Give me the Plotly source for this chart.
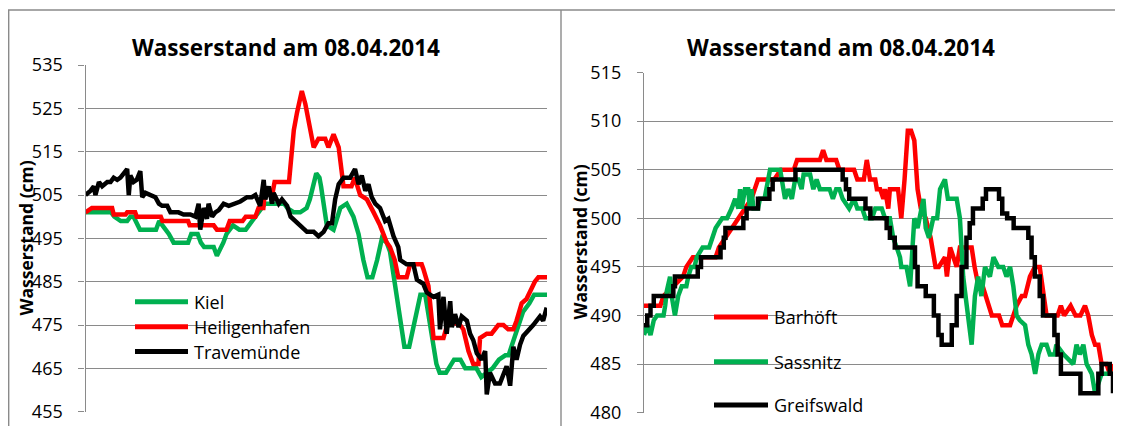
import plotly.graph_objects as go

# the page body keeps its default 8px margin, so the figure is laid out in
# page pixels minus that offset
OFF = 8
W, H = 1123 - OFF, 426 - OFF

# time axis: 10-minute steps over the day (0 .. 144)
kiel_t = [0, 8, 9, 11, 13, 14, 15, 17, 22, 23, 24, 26, 27.5, 32, 33, 35, 36, 37, 40, 41,
          43, 44, 46, 48, 50, 51, 53, 55, 56, 62, 63, 65, 67, 69, 70, 71, 72, 73, 73.5, 75.3,
          77.4, 79.5, 81.5, 83.6, 85.2, 86.7, 88, 89.5, 91, 92.5, 94, 95, 97, 99.5, 101, 104.5,
          106, 108, 109.5, 110.5, 112.5, 115, 117, 118.5, 122, 123.5, 125, 127, 129, 131, 132,
          134.5, 136.5, 138.5, 140, 144]
kiel_cm = [501, 501, 500, 499, 499, 500, 500, 497, 497, 499, 498, 496, 494, 494, 496, 496, 494, 493, 493, 491,
           494, 496, 498, 497, 497, 498, 500, 502, 503, 503, 502, 501, 501, 502, 504, 507, 510, 509, 507, 498,
           497, 502, 503, 500, 496, 490, 486, 486, 490, 495, 494, 492, 482, 470, 470, 482,
           482, 472, 466, 464, 464, 467, 467, 465, 465, 463, 464, 465, 467, 468, 468,
           474, 478, 480, 482, 482]

heiligenhafen_t = [0, 2, 8.3, 8.8, 12.5, 13, 15.5, 16, 23.5, 24, 32, 32.5, 40, 41, 44, 45, 49, 50, 53, 54,
                   55.5, 56, 58.5, 59, 63.5, 64, 65, 66, 67.5, 68.6, 69.6, 71.2, 72.7, 74.8, 75.8, 77.4,
                   79, 80, 80.5, 83, 84, 85.7, 87.8, 89.9, 91.9, 94, 95, 96.5, 97.6, 100.2, 101.3, 104.9,
                   105.4, 107, 108.6, 111.7, 113.2, 116.9, 117.9, 119.5, 121, 122.6, 123.1, 125.2, 126.7,
                   128.8, 130.4, 131.9, 133.5, 134.5, 136.1, 137.6, 140.2, 141.3, 144]
heiligenhafen_cm = [501, 502, 502, 500.5, 500.5, 501, 501, 500, 500, 499, 499, 498, 498, 497, 497, 499, 499, 500, 500, 502,
                    502, 506, 506, 508, 508, 513, 520, 524, 529, 526, 522, 516, 518, 518, 516, 519,
                    516, 510, 507, 507, 509, 505, 504, 501, 498, 494, 493, 490, 486, 486, 489, 489,
                    488, 484, 472, 472, 476, 475, 474, 469, 466, 466, 472, 473, 473,
                    475, 475, 474, 474, 476, 480, 481, 485, 486, 486]

travemuende_t = [0, 1.6, 2.6, 3.1, 4.2, 5.2, 6.8, 7.8, 8.8, 9.9, 10.9, 12, 13, 13.5, 14, 15, 16, 17.1, 17.7, 18.7,
                 20.3, 21.8, 22.9, 23.9, 25.5, 26.5, 28, 29, 30.6, 32.7, 34.3, 35.3, 35.8, 36.9, 37.9, 38.4,
                 39.5, 40.5, 41.6, 43.1, 44.7, 46.2, 48.3, 50.4, 51.9, 53, 54.5, 55.6, 56.1, 57.2, 58.2, 58.7,
                 60.3, 61.3, 62.9, 64, 65.5, 67.5, 69.1, 71.2, 72.7, 74.3, 75.8, 76.9, 77.9, 79, 80.5, 82.6,
                 84.1, 85.2, 86.2, 87.3, 88.3, 89.3, 90.4, 91.9, 93.5, 94.5, 96.1, 97.6, 98.2, 100.2, 102.3,
                 103.4, 105.4, 106.5, 108.6, 110.1, 110.6, 111.7, 112.7, 113.8, 114.3, 115.3, 116.4, 117.4,
                 119, 120, 121, 122.1, 123.6, 124.7, 125.2, 126.2, 127.8, 129.3, 130.4, 131.4, 132.5, 133.5,
                 134.5, 135.6, 136.6, 138.7, 139.7, 141.8, 142.8, 143.9]
travemuende_cm = [505, 506, 507, 505, 508, 507, 508, 508, 509, 508.5, 509, 510, 511, 505, 509.5, 508, 508.5, 510.5, 504.5, 505.5,
                  505, 504.5, 503, 502.5, 502.5, 501, 501, 501, 500.5, 500.5, 500, 503, 497, 502, 499.5, 503,
                  500, 501, 501.5, 503, 502.5, 503, 503.5, 504.5, 504.5, 505, 502.5, 508.5, 504, 507, 503, 505.5,
                  503, 504, 502.5, 500, 499, 497.5, 496.5, 496.5, 495.5, 496.5, 498.5, 498.5, 504, 507.5, 509, 509,
                  511, 507.5, 509.5, 506, 507.5, 504.5, 503, 502, 499, 499.5, 495.5, 493, 490, 489, 489,
                  485.5, 484.5, 482.5, 481.5, 482, 474, 481.5, 473, 480.5, 474.5, 477.5, 474.5, 477,
                  476, 473, 471.5, 468.5, 467, 469, 459, 464, 461.5, 461.5, 464, 465.5, 461, 470,
                  467, 470.5, 472.5, 474, 475, 477, 476, 479]

barhoeft_t = [0, 5, 6, 9, 12, 13, 15, 22, 23, 25, 27, 29, 31, 33, 35, 37, 40, 42, 46, 47,
              54, 55, 56, 59, 60, 64.5, 65.5, 67.5, 68.4, 69.4, 71, 71.5, 72.5, 73.5, 74, 75, 75.5, 78, 79, 80,
              81, 82, 83, 84, 85, 86.5, 88, 89.5, 90.5, 92.4, 93, 94, 95, 96, 97, 98.6, 100.6, 101.5, 102.7, 104,
              105, 106.8, 109, 110, 112.4, 113.4, 114.4, 116, 117, 118.5, 120, 121.5, 122.6, 123.6, 127, 128, 129,
              131, 132.5, 134, 135.4, 136.4, 137.5, 138.5, 139.5, 140.5, 142, 143, 144]
barhoeft_cm = [491, 491, 492, 493, 494, 495, 496, 496, 497, 498, 499, 500, 501, 502, 504, 504, 504, 505, 505, 506,
               506, 507, 506, 506, 505, 505, 504, 504, 506, 504, 504, 503, 503, 502, 503, 501, 503, 503, 500, 504,
               509, 509, 508, 503, 501, 500, 498, 495, 495, 496, 494, 497, 496, 495, 497, 497, 497, 495, 493, 493,
               492, 490, 490, 489, 489, 490, 491, 492, 492, 494, 495, 495, 492, 490, 490, 491, 490,
               491, 490, 490, 491, 490, 488, 487, 487, 485, 485, 484, 485]

sassnitz_t = [0, 1, 2, 3, 4, 6, 6.5, 7, 8, 8.5, 9.5, 10.5, 11.6, 13, 13.6, 14.5, 15.5, 16.2, 18, 20,
              21, 22, 24, 25.5, 26.9, 28, 29, 29.5, 30, 31, 32, 32.5, 33, 33.6, 35, 35.6, 37, 37.5, 38.2, 38.7,
              41.8, 42.3, 43.3, 44.3, 45.4, 46.4, 47.4, 48.4, 49, 51, 52, 53, 54, 57, 58, 59, 60, 61, 63, 64.5,
              65.5, 67, 68, 70, 71, 73, 74, 75.5, 76.5, 77.6, 78.6, 79, 80.6, 81.7, 82.5, 83, 84, 85, 85.8, 86.5,
              87.5, 88.8, 90, 90.9, 92.4, 93.3, 94.5, 96, 97, 98, 99.1, 100.6, 101.6, 102.6, 103.6, 104.7, 106.2,
              107.3, 108.8, 110.3, 111.3, 112.4, 113.4, 114.4, 115.4, 117, 118, 119, 120.1, 121.1, 122.1, 123.6,
              124.6, 126.1, 126.6, 128.8, 131.8, 132.8, 133.8, 134.9, 135.9, 137.5, 138.5, 139.5, 140.5, 142, 144]
sassnitz_cm = [488, 489, 488, 489.5, 490, 490, 491, 492.5, 494, 492, 490, 492, 493, 493, 494, 495, 495, 496, 497, 497,
               498, 499, 500, 500, 501, 502, 501, 503, 501, 503, 503, 501, 503, 501, 501, 502, 502, 503, 504, 505,
               505, 504, 502, 503, 502, 504, 504, 503, 504.5, 504.5, 503, 504, 503, 503, 502, 503, 503, 502, 501, 502,
               501, 501, 500, 500, 501, 501, 500, 500, 498, 497, 496, 495, 495, 493, 497, 500, 499, 501, 502, 499,
               498, 500, 500, 503, 504, 502, 502, 502, 500, 494, 491, 487, 492, 494, 492, 495, 494,
               496, 495, 495, 494, 495, 493, 490, 489.5, 489, 487, 486, 484, 486, 487, 487,
               486, 486, 487, 486, 485, 487, 486, 487, 485, 484, 482, 483, 484, 484, 484]

greifswald_t = [0, 1, 2, 3, 8, 9, 9.5, 15.5, 16.5, 17.5, 22.5, 23.5, 24.5, 25, 29.5, 30.5, 31.5, 34, 35, 37.5,
                38.5, 39.5, 46, 46.5, 60, 61, 62, 63, 67, 68, 69.5, 74, 74.5, 75.5, 77, 82.5, 83.2, 84, 86, 86.5,
                88, 89, 90.4, 91.4, 93.4, 94.5, 96, 97.5, 99, 100, 101, 103, 104, 105, 108, 109, 110, 111.5, 113,
                113.5, 117, 118, 119, 120, 121.5, 122.5, 124.7, 126, 127, 128, 133, 134, 138.5, 139.5, 140.5, 142,
                143, 144]
greifswald_cm = [489, 490, 491, 492, 492, 493, 494, 494, 495, 496, 496, 497, 498, 499, 499, 500, 501, 501, 502, 502,
                 503, 504, 504, 505, 505, 504, 503, 502, 502, 501, 500, 500, 499, 498, 497, 497, 495, 493, 493, 492,
                 492, 490, 488, 487, 487, 489, 492, 495, 498, 499.5, 501, 501, 502, 503, 503, 502, 500.5, 500, 500,
                 499, 499, 498, 496, 494, 492, 490, 490, 488, 486, 484, 484, 482, 482, 484, 485, 485,
                 484, 482]

GREEN = "#00B050"
RED = "#FF0000"
BLACK = "#000000"
GRID = "#8a8a8a"
FONT = "Open Sans"


def fx(px):
    """page pixel (from left) -> paper fraction"""
    return (px - OFF) / W


def fy(py):
    """page pixel (from top) -> paper fraction"""
    return 1 - (py - OFF) / H


left_series = [
    ("Kiel", kiel_t, kiel_cm, GREEN, "linear"),
    ("Heiligenhafen", heiligenhafen_t, heiligenhafen_cm, RED, "linear"),
    ("Travemünde", travemuende_t, travemuende_cm, BLACK, "linear"),
]
right_series = [
    ("Barhöft", barhoeft_t, barhoeft_cm, RED, "linear"),
    ("Sassnitz", sassnitz_t, sassnitz_cm, GREEN, "linear"),
    ("Greifswald", greifswald_t, greifswald_cm, BLACK, "hv"),
]

fig = go.Figure()
for name, t, cm, color, shape in left_series:
    fig.add_trace(go.Scatter(x=t, y=cm, name=name, mode="lines", xaxis="x", yaxis="y",
                             line=dict(color=color, width=4.5, shape=shape)))
for name, t, cm, color, shape in right_series:
    fig.add_trace(go.Scatter(x=t, y=cm, name=name, mode="lines", xaxis="x2", yaxis="y2",
                             line=dict(color=color, width=4.5, shape=shape)))

yaxis_style = dict(
    showgrid=True, gridcolor=GRID, gridwidth=1.3,
    showline=True, linecolor=GRID, linewidth=1.3,
    ticks="outside", ticklen=6, tickcolor=GRID, tickwidth=1.3,
    ticklabelstandoff=12, zeroline=False, fixedrange=True, automargin=False,
    tickfont=dict(family=FONT, size=18, color="black"),
)

fig.update_layout(
    width=W, height=H,
    margin=dict(l=0, r=0, t=0, b=0, autoexpand=False),
    paper_bgcolor="white", plot_bgcolor="white",
    showlegend=False,
    xaxis=dict(domain=[fx(85.5), fx(547)], range=[0, 144], visible=False, anchor="y", automargin=False),
    yaxis=dict(domain=[fy(411.7), fy(65)], range=[455, 535], tickvals=list(range(455, 536, 10)),
               anchor="x", **yaxis_style),
    xaxis2=dict(domain=[fx(644), fx(1113)], range=[0, 144], visible=False, anchor="y2", automargin=False),
    yaxis2=dict(domain=[fy(412.7), fy(72.5)], range=[480, 515], tickvals=list(range(480, 516, 5)),
                anchor="x2", **yaxis_style),
)

# chart area borders
border = dict(color=GRID, width=1.4)
fig.add_shape(type="path", xref="paper", yref="paper", line=border,
              path=f"M {fx(8.7)} -0.2 L {fx(8.7)} {fy(10)} L {fx(1118)} {fy(10)} L {fx(1118)} -0.2")
fig.add_shape(type="line", xref="paper", yref="paper", line=border,
              x0=fx(561), x1=fx(561), y0=-0.2, y1=fy(10))

# titles
for cx, cy_lab, ylab_x in [(285.5, 238.5, 25), (841, 242.5, 580)]:
    fig.add_annotation(text="<b>Wasserstand am 08.04.2014</b>", x=fx(cx), y=fy(47.5),
                       xref="paper", yref="paper", xanchor="center", yanchor="middle",
                       showarrow=False, font=dict(family=FONT, size=22.5, color="black"))
    fig.add_annotation(text="<b>Wasserstand (cm)</b>", textangle=-90, x=fx(ylab_x), y=fy(cy_lab),
                       xref="paper", yref="paper", xanchor="center", yanchor="middle",
                       showarrow=False, font=dict(family=FONT, size=17.5, color="black"))

# legends drawn by hand (line swatch + label)
legends = [
    (135, 188, 192, [(301.7, "Kiel", GREEN), (326.7, "Heiligenhafen", RED), (351.5, "Travemünde", BLACK)]),
    (714, 768, 772, [(317, "Barhöft", RED), (361.7, "Sassnitz", GREEN), (405, "Greifswald", BLACK)]),
]
for x0, x1, tx, rows in legends:
    for ypx, label, color in rows:
        fig.add_shape(type="line", xref="paper", yref="paper", x0=fx(x0), x1=fx(x1),
                      y0=fy(ypx), y1=fy(ypx), line=dict(color=color, width=5))
        fig.add_annotation(text=label, x=fx(tx), y=fy(ypx), xref="paper", yref="paper",
                           xanchor="left", yanchor="middle", showarrow=False,
                           font=dict(family=FONT, size=18, color="black"))

fig.write_html("out.html")
